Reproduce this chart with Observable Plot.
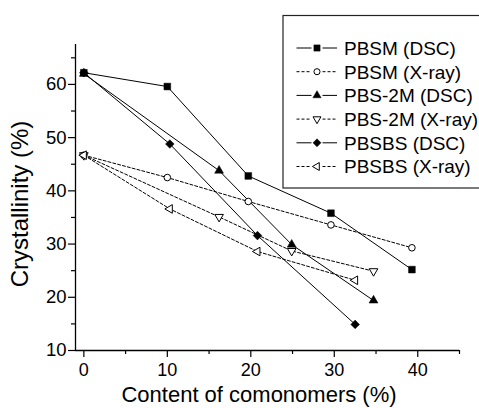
<!DOCTYPE html>
<html><head><meta charset="utf-8">
<script src="https://cdn.jsdelivr.net/npm/d3@7"></script>
<script src="https://cdn.jsdelivr.net/npm/@observablehq/plot@0.6"></script>
<style>body{margin:0;background:#fff} #chart svg{display:block}</style>
</head><body><div id="chart"></div>
<script>
// ---- data ----
const seriesNames = ["PBSM (DSC)", "PBSM (X-ray)", "PBS-2M (DSC)", "PBS-2M (X-ray)", "PBSBS (DSC)", "PBSBS (X-ray)"];
const pbsmContent = [0, 10, 19.7, 29.6, 39.3];
const pbsmDSC = [62.2, 59.6, 42.8, 35.8, 25.2];
const pbsmXray = [46.7, 42.5, 38.0, 33.6, 29.3];
const pbs2mContent = [0, 16.2, 24.9, 34.7];
const pbs2mDSC = [62.0, 43.8, 29.9, 19.4];
const pbs2mXray = [46.7, 35.1, 28.7, 24.9];
const pbsbsContent = [0, 10.3, 20.8, 32.5];
const pbsbsDSC = [62.2, 48.8, 31.6, 14.9];
const pbsbsXray = [46.7, 36.6, 28.6, 23.2];
const xTicks = [0, 10, 20, 30, 40];
const xMinorTicks = [5, 15, 25, 35, 45];
const yTicks = [10, 20, 30, 40, 50, 60];
const yMinorTicks = [15, 25, 35, 45, 55, 65];
const xLabel = "Content of comonomers (%)";
const yLabel = "Crystallinity (%)";

const rows = (xs, ys) => xs.map((x, i) => ({x, y: ys[i]}));
const styles = [
  {name: seriesNames[0], data: rows(pbsmContent, pbsmDSC), symbol: "square", r: 3.8, open: false, dash: null, rotate: 0},
  {name: seriesNames[1], data: rows(pbsmContent, pbsmXray), symbol: "circle", r: 3.3, open: true, dash: "3,2", rotate: 0},
  {name: seriesNames[2], data: rows(pbs2mContent, pbs2mDSC), symbol: "triangle", r: 3.3, open: false, dash: null, rotate: 0},
  {name: seriesNames[3], data: rows(pbs2mContent, pbs2mXray), symbol: "triangle", r: 3.2, open: true, dash: "3,2", rotate: 180},
  {name: seriesNames[4], data: rows(pbsbsContent, pbsbsDSC), symbol: "diamond2", r: 3.9, open: false, dash: null, rotate: 0},
  {name: seriesNames[5], data: rows(pbsbsContent, pbsbsXray), symbol: "triangle", r: 3.2, open: true, dash: "3,2", rotate: -90}
];

const font = "'Liberation Sans', Arial, Helvetica, sans-serif";
const marks = [
  Plot.ruleX([-1], {stroke: "black", strokeWidth: 1.3}),
  Plot.ruleY([10], {stroke: "black", strokeWidth: 1.3}),
  Plot.axisY({ticks: yTicks, tickSize: 7, tickPadding: 2, fontSize: 18.5, label: null, strokeWidth: 1.2}),
  Plot.axisY({ticks: yMinorTicks, tickSize: 4, tickFormat: () => "", label: null, strokeWidth: 1.2}),
  Plot.axisX({ticks: xTicks, tickSize: 7, tickPadding: 6, fontSize: 18, label: null, strokeWidth: 1.2}),
  Plot.axisX({ticks: xMinorTicks, tickSize: 4, tickFormat: () => "", label: null, strokeWidth: 1.2})
];
for (const s of styles) {
  marks.push(Plot.line(s.data, {x: "x", y: "y", stroke: "black", strokeWidth: 1, strokeDasharray: s.dash || undefined}));
}
for (const s of styles) {
  marks.push(Plot.dot(s.data, {x: "x", y: "y", symbol: s.symbol, r: s.r, rotate: s.rotate,
    fill: s.open ? "white" : "black", stroke: "black", strokeWidth: s.open ? 1 : 0.5}));
}

const chart = Plot.plot({
  width: 479, height: 408,
  marginLeft: 75, marginRight: 20, marginTop: 44, marginBottom: 58,
  style: {fontFamily: font, background: "white", color: "black"},
  x: {domain: [-1, 45]},
  y: {domain: [10, 67.5]},
  marks
});
document.getElementById("chart").append(chart);

// ---- axis titles and legend ----
const svg = d3.select(chart);
svg.append("text").attr("x", 259).attr("y", 401.5).attr("text-anchor", "middle")
  .attr("font-size", 22).attr("font-family", font).attr("fill", "black").text(xLabel);
svg.append("text").attr("transform", "translate(28,204) rotate(-90)").attr("text-anchor", "middle")
  .attr("font-size", 24).attr("font-family", font).attr("fill", "black").text(yLabel);

const lg = svg.append("g");
lg.append("rect").attr("x", 283).attr("y", 15.5).attr("width", 220).attr("height", 172.5)
  .attr("fill", "white").attr("stroke", "#222").attr("stroke-width", 1.2);
const symMap = {square: d3.symbolSquare, circle: d3.symbolCircle, triangle: d3.symbolTriangle, diamond2: d3.symbolDiamond2};
styles.forEach((s, i) => {
  const y = 48 + 23.7 * i;
  const g = lg.append("g");
  for (const [x1, x2] of [[296.5, 311.5], [322.5, 337]]) {
    g.append("line").attr("x1", x1).attr("x2", x2).attr("y1", y).attr("y2", y)
      .attr("stroke", "black").attr("stroke-width", 1).attr("stroke-dasharray", s.dash);
  }
  g.append("path").attr("d", d3.symbol(symMap[s.symbol], s.r * s.r * Math.PI * 0.85)())
    .attr("transform", `translate(317,${y}) rotate(${s.rotate})`)
    .attr("fill", s.open ? "white" : "black").attr("stroke", "black").attr("stroke-width", s.open ? 1 : 0.5);
  g.append("text").attr("x", 344).attr("y", y).attr("dy", "0.36em").attr("text-anchor", "start")
    .attr("font-size", 19).attr("font-family", font).attr("fill", "black").text(s.name);
});
</script>
</body></html>
